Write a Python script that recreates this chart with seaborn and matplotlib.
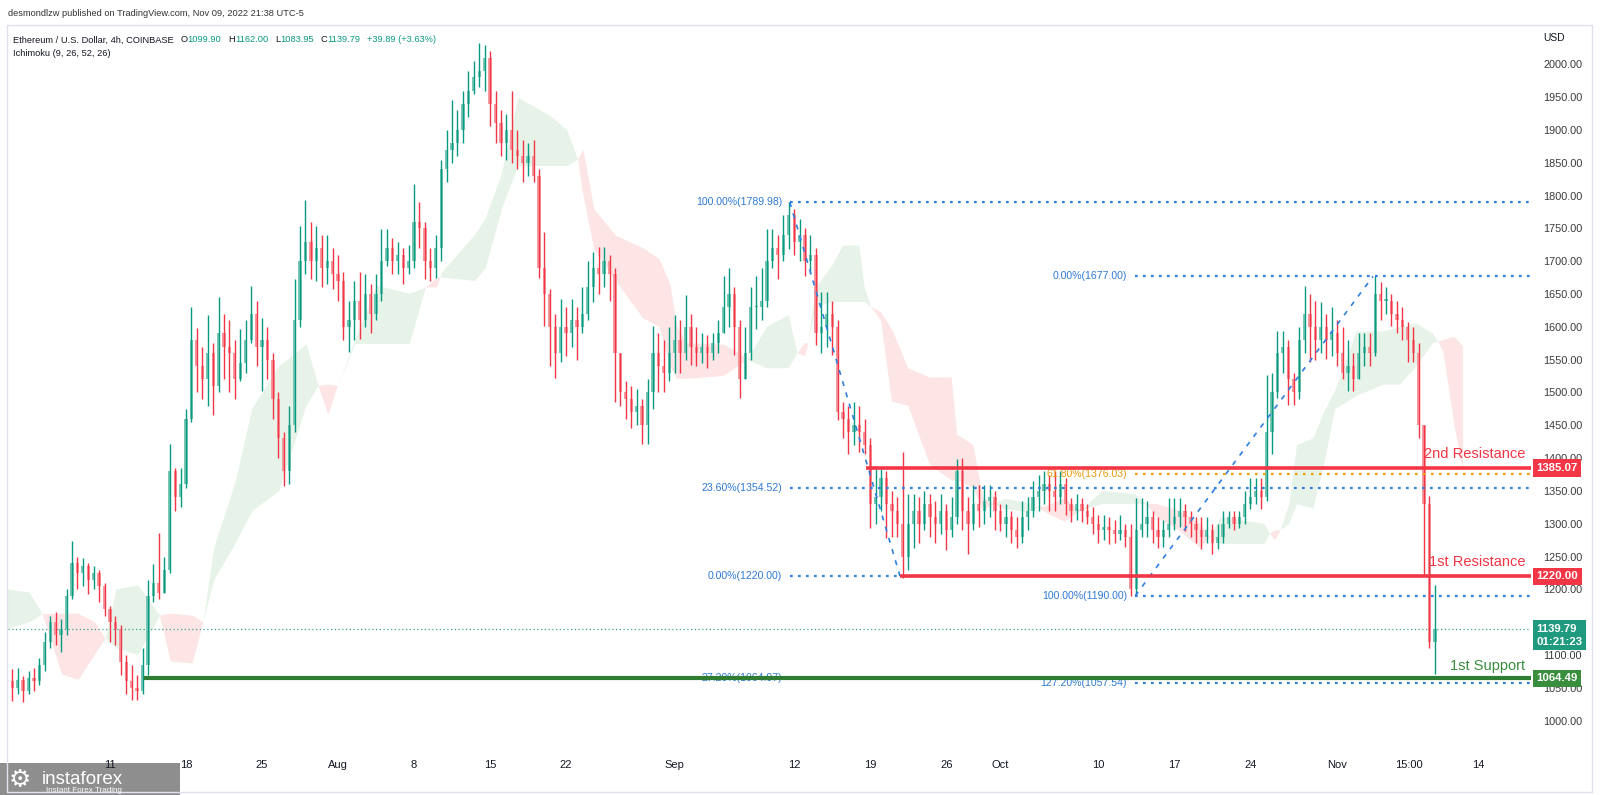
import numpy as np
import pandas as pd
import matplotlib
matplotlib.use("Agg")
import matplotlib.pyplot as plt
import seaborn as sns
from matplotlib.patches import Rectangle
from matplotlib.lines import Line2D
from matplotlib.ticker import FuncFormatter
from matplotlib.transforms import blended_transform_factory

# ---------------- data (12h bars, x in days since 2022-07-01) ----------------
bar_start = 0.75
bar_len = 0.5
first_open = 1060.0

closes = [
    1050, 1062, 1045, 1065, 1060, 1085, 1120, 1150, 1130, 1140, 1190, 1240, 1225, 1235, 1215, 1225, 1205, 1170, 1150, 1140,
    1090, 1060, 1050, 1045, 1085, 1190, 1210, 1195, 1230, 1380, 1340, 1360, 1460, 1580, 1540, 1520, 1560, 1510, 1590, 1570,
    1560, 1520, 1545, 1580, 1620, 1570, 1580, 1550, 1490, 1430, 1380, 1450, 1610, 1700, 1730, 1700, 1720, 1690, 1700, 1680,
    1670, 1600, 1610, 1640, 1610, 1650, 1620, 1650, 1700, 1720, 1700, 1710, 1690, 1700, 1760, 1750, 1700, 1690, 1720, 1840,
    1870, 1880, 1900, 1940, 1960, 1980, 1990, 2010, 1940, 1910, 1880, 1900, 1870, 1860, 1850, 1860, 1830, 1690, 1650, 1600,
    1560, 1600, 1590, 1610, 1600, 1620, 1660, 1690, 1680, 1700, 1680, 1560, 1500, 1490, 1470, 1480, 1450, 1500, 1560, 1540,
    1530, 1560, 1580, 1560, 1600, 1570, 1560, 1570, 1560, 1575, 1590, 1630, 1650, 1600, 1520, 1560, 1630, 1630, 1640, 1700,
    1720, 1710, 1740, 1770, 1730, 1740, 1700, 1710, 1590, 1600, 1620, 1600, 1470, 1460, 1440, 1450, 1440, 1420, 1330, 1340,
    1370, 1330, 1320, 1300, 1250, 1300, 1320, 1300, 1330, 1310, 1300, 1320, 1290, 1310, 1380, 1320, 1300, 1330, 1320, 1335,
    1340, 1320, 1300, 1310, 1290, 1280, 1310, 1320, 1340, 1350, 1360, 1350, 1340, 1360, 1330, 1320, 1330, 1320, 1310,
    1300, 1290, 1295, 1290, 1285, 1290, 1280, 1200, 1290, 1300, 1310, 1290, 1280, 1290, 1300, 1310, 1320, 1310, 1300, 1290,
    1280, 1290, 1270, 1280, 1300, 1310, 1300, 1310, 1330, 1340, 1350, 1340, 1440, 1500, 1560, 1570, 1520, 1500, 1580, 1620,
    1600, 1580, 1600, 1580, 1590, 1560, 1530, 1540, 1520, 1560, 1570, 1560, 1650, 1640, 1640, 1620, 1610, 1600, 1580, 1560,
    1450, 1330, 1120, 1139.79]

highs = [
    1078, 1080, 1068, 1075, 1080, 1095, 1135, 1160, 1165, 1155, 1200, 1274, 1250, 1248, 1240, 1235, 1230, 1210, 1175, 1160,
    1145, 1100, 1085, 1070, 1110, 1214, 1238, 1286, 1250, 1421, 1385, 1385, 1475, 1630, 1598, 1570, 1618, 1575, 1646, 1620,
    1610, 1580, 1597, 1610, 1663, 1640, 1613, 1600, 1560, 1500, 1440, 1480, 1673, 1754, 1793, 1760, 1754, 1740, 1740, 1720,
    1710, 1683, 1640, 1670, 1683, 1680, 1665, 1680, 1749, 1749, 1735, 1730, 1720, 1725, 1817, 1790, 1760, 1720, 1740, 1854,
    1900, 1946, 1930, 1960, 1990, 2005, 2032, 2030, 2020, 1960, 1930, 1925, 1960, 1900, 1885, 1880, 1885, 1840, 1745, 1658,
    1620, 1642, 1630, 1642, 1630, 1660, 1700, 1714, 1721, 1721, 1710, 1690, 1560, 1517, 1510, 1505, 1490, 1520, 1602, 1590,
    1580, 1600, 1618, 1610, 1649, 1620, 1600, 1590, 1587, 1590, 1610, 1678, 1689, 1660, 1610, 1600, 1660, 1678, 1690, 1749,
    1749, 1740, 1770, 1790, 1780, 1765, 1750, 1740, 1720, 1653, 1653, 1640, 1610, 1486, 1480, 1486, 1480, 1460, 1430, 1384,
    1384, 1380, 1350, 1340, 1409, 1345, 1345, 1340, 1350, 1345, 1335, 1345, 1330, 1340, 1399, 1400, 1340, 1359, 1359, 1359,
    1359, 1350, 1330, 1330, 1320, 1310, 1334, 1340, 1365, 1375, 1380, 1375, 1380, 1380, 1370, 1339, 1345, 1339, 1330,
    1325, 1314, 1314, 1310, 1305, 1314, 1300, 1300, 1339, 1339, 1335, 1320, 1310, 1305, 1339, 1339, 1339, 1330, 1320, 1310,
    1310, 1310, 1300, 1300, 1319, 1319, 1319, 1320, 1350, 1370, 1370, 1370, 1526, 1530, 1593, 1593, 1580, 1530, 1600, 1663,
    1650, 1640, 1638, 1620, 1630, 1610, 1600, 1580, 1560, 1590, 1590, 1590, 1678, 1669, 1660, 1650, 1640, 1630, 1607, 1600,
    1575, 1450, 1342, 1206]

lows = [
    1030, 1040, 1028, 1040, 1045, 1055, 1075, 1110, 1115, 1105, 1130, 1185, 1200, 1205, 1193, 1200, 1180, 1160, 1120, 1115,
    1070, 1040, 1031, 1031, 1040, 1070, 1180, 1185, 1195, 1225, 1320, 1325, 1355, 1455, 1500, 1490, 1480, 1466, 1500, 1520,
    1500, 1490, 1517, 1530, 1575, 1540, 1502, 1520, 1460, 1400, 1357, 1360, 1440, 1600, 1680, 1673, 1670, 1660, 1665, 1658,
    1640, 1580, 1562, 1580, 1582, 1600, 1590, 1610, 1640, 1693, 1680, 1680, 1665, 1680, 1690, 1720, 1673, 1670, 1675, 1700,
    1820, 1850, 1860, 1880, 1920, 1955, 1966, 1960, 1906, 1880, 1860, 1854, 1850, 1840, 1820, 1830, 1820, 1675, 1602, 1540,
    1522, 1547, 1555, 1570, 1550, 1590, 1610, 1638, 1650, 1660, 1640, 1486, 1480, 1460, 1446, 1450, 1421, 1421, 1475, 1500,
    1500, 1517, 1530, 1530, 1550, 1542, 1540, 1545, 1537, 1550, 1560, 1590, 1600, 1557, 1491, 1520, 1550, 1597, 1610, 1630,
    1690, 1673, 1700, 1718, 1710, 1700, 1678, 1680, 1573, 1560, 1570, 1557, 1458, 1430, 1406, 1420, 1410, 1406, 1294, 1300,
    1320, 1279, 1280, 1280, 1218, 1230, 1263, 1270, 1290, 1280, 1270, 1285, 1260, 1280, 1300, 1290, 1254, 1290, 1295, 1300,
    1310, 1290, 1289, 1280, 1270, 1263, 1270, 1290, 1310, 1320, 1330, 1320, 1320, 1330, 1314, 1303, 1305, 1303, 1300,
    1285, 1270, 1275, 1269, 1270, 1275, 1265, 1190, 1190, 1280, 1280, 1270, 1263, 1265, 1280, 1290, 1295, 1289, 1280, 1270,
    1262, 1270, 1254, 1262, 1270, 1294, 1290, 1294, 1300, 1323, 1330, 1323, 1335, 1406, 1491, 1530, 1481, 1481, 1490, 1560,
    1546, 1550, 1560, 1551, 1555, 1540, 1520, 1502, 1502, 1520, 1540, 1540, 1555, 1610, 1620, 1602, 1590, 1580, 1546, 1546,
    1430, 1222, 1110, 1071]

# Ichimoku cloud edges (Senkou span A / B)
cloud_days = [0.6, 2.6, 3.8, 5.6, 7.1, 8.6, 9.6, 10.6, 12.6, 14.6, 15.6, 17.6, 18.6, 19.6, 21.6, 23.1, 25.6,
              28.1, 29.2, 30.1, 31.0, 32.6, 34.6, 37.6, 39.1, 40.1, 40.6, 43.6, 44.6, 46.1, 47.6, 50.6, 52.1,
              53.1, 53.6, 54.6, 56.6, 59.1, 60.6, 61.6, 62.2, 63.1, 66.5, 68.0, 68.7, 70.5, 72.5, 73.3, 74.0,
              74.3, 75.0, 76.5, 77.5, 79.0, 79.5, 80.1, 81.0, 82.0, 83.5, 85.5, 87.5, 88.0, 89.5, 90.4, 91.4,
              92.4, 94.4, 95.4, 96.4, 97.9, 99.4, 101.4, 104.4, 105.4, 106.4, 108.4, 110.4, 111.3, 112.3, 116.3,
              116.8, 117.3, 117.8, 118.6, 119.3, 120.8, 121.8, 122.8, 124.8, 127.3, 128.8, 130.3, 131.8, 132.3,
              132.8, 133.8, 134.6]
span_a = [1200, 1195, 1162, 1070, 1062, 1100, 1125, 1200, 1206, 1160, 1090, 1087, 1150, 1263, 1365, 1475, 1540,
          1573, 1510, 1466, 1510, 1580, 1663, 1650, 1660, 1660, 1683, 1740, 1765, 1834, 1949, 1921, 1900,
          1855, 1800, 1718, 1670, 1613, 1600, 1540, 1521, 1521, 1525, 1542, 1550, 1600, 1618, 1560, 1555,
          1575, 1660, 1693, 1724, 1724, 1660, 1630, 1610, 1486, 1480, 1390, 1366, 1366, 1355, 1320, 1330,
          1338, 1332, 1325, 1315, 1303, 1320, 1350, 1345, 1330, 1310, 1290, 1263, 1280, 1310, 1300,
          1285, 1275, 1290, 1330, 1420, 1430, 1470, 1502, 1593, 1593, 1600, 1605, 1590, 1578,
          1560, 1450, 1380]
span_b = [1140, 1150, 1162, 1163, 1163, 1150, 1125, 1110, 1100, 1160, 1163, 1160, 1150, 1214, 1271, 1319, 1350,
          1480, 1510, 1512, 1510, 1574, 1574, 1574, 1660, 1675, 1675, 1670, 1689, 1780, 1845, 1845, 1845,
          1855, 1870, 1779, 1739, 1720, 1703, 1665, 1602, 1575, 1573, 1560, 1550, 1537, 1537, 1560, 1575,
          1575, 1630, 1638, 1638, 1638, 1638, 1630, 1622, 1597, 1537, 1523, 1523, 1436, 1420, 1340, 1330,
          1322, 1318, 1325, 1328, 1339, 1320, 1330, 1330, 1330, 1330, 1320, 1300, 1280, 1269, 1269,
          1285, 1290, 1290, 1300, 1330, 1323, 1390, 1474, 1495, 1512, 1512, 1540, 1575, 1578,
          1580, 1585, 1570]

date_ticks = [10, 17, 24, 31, 38, 45, 52, 62, 73, 80, 87, 92, 101, 108, 115, 123, 129.6, 136]
date_labels = ["11", "18", "25", "Aug", "8", "15", "22", "Sep", "12", "19", "26", "Oct",
               "10", "17", "24", "Nov", "15:00", "14"]
price_ticks = [p for p in range(1000, 2001, 50) if p != 1150]   # 1150 sits under the live-price tag

fib1_names = ["100.00%", "23.60%", "0.00%", "27.20%"]
fib1_levels = [1789.98, 1354.52, 1220.00, 1064.97]
fib2_names = ["0.00%", "61.80%", "100.00%", "127.20%"]
fib2_levels = [1677.00, 1376.03, 1190.00, 1057.54]
fib1_swing_days = [72.6, 82.75]
fib1_swing_prices = [1789.98, 1220.00]
fib2_swing_days = [104.4, 126.3]
fib2_swing_prices = [1190.00, 1677.00]

resist2 = 1385.07
resist1 = 1220.00
support1 = 1064.49
last_price = 1139.79
countdown = "01:21:23"
ohlc_header = [("O", "1099.90"), ("H", "1162.00"), ("L", "1083.95"), ("C", "1139.79")]
change_text = "+39.89 (+3.63%)"

# ---------------- styling ----------------
sns.set_theme(style="white")
plt.rcParams['font.family'] = ['Liberation Sans', 'DejaVu Sans']

W, H = 1600, 795
def fx(px):
    return px / W
def fy(py):
    return 1 - py / H

UP = '#089981'
DOWN = '#f23645'
UP_BODY = '#79c8b4'
DOWN_BODY = '#f59aa1'
BLUE = '#2f7fe0'
BLUE_TXT = '#2f7ad3'
ORANGE = '#f0a010'
GREEN = '#2e7d32'
TXT = '#131722'

fig = plt.figure(figsize=(16, 7.95), dpi=100, facecolor='white')
ax = fig.add_axes([fx(8), fy(758), fx(1531) - fx(8), fy(25) - fy(758)])
ax.set_zorder(40)
ax.set_facecolor('white')
for s in ax.spines.values():
    s.set_visible(False)
ax.set_xlim(0.61, 140.85)
ax.set_ylim(943, 2060)

# Ichimoku cloud
cd = np.array(cloud_days, float)
ca = np.array(span_a, float)
cb = np.array(span_b, float)
ax.fill_between(cd, ca, cb, where=ca >= cb, interpolate=True, color='#e7f3e8', lw=0, zorder=1)
ax.fill_between(cd, ca, cb, where=ca < cb, interpolate=True, color='#fde5e5', lw=0, zorder=1)

# candles
c = np.array(closes, float)
h = np.array(highs, float)
l = np.array(lows, float)
assert len(c) == len(h) == len(l)
o = np.concatenate([[first_open], c[:-1]])
t = bar_start + bar_len * np.arange(len(c)) + bar_len / 2
up = c >= o
top = np.maximum(h, np.maximum(o, c))
bot = np.minimum(l, np.minimum(o, c))
body_h = np.maximum(np.abs(c - o), 2.0)
body_b = np.minimum(o, c)
ax.bar(t[up], body_h[up], bottom=body_b[up], width=0.3, color=UP_BODY, lw=0, zorder=3)
ax.bar(t[~up], body_h[~up], bottom=body_b[~up], width=0.3, color=DOWN_BODY, lw=0, zorder=3)
ax.vlines(t[up], bot[up], top[up], color=UP, lw=1.0, zorder=4)
ax.vlines(t[~up], bot[~up], top[~up], color=DOWN, lw=1.0, zorder=4)

# current price dotted line
ax.axhline(last_price, color='#3aa58f', lw=0.9, ls=(0, (1, 2)), zorder=2)

# fib swings (dashed diagonals)
swing_df = pd.DataFrame({
    'day': fib1_swing_days + fib2_swing_days,
    'price': fib1_swing_prices + fib2_swing_prices,
    'fib': ['a', 'a', 'b', 'b']})
sns.lineplot(data=swing_df, x='day', y='price', units='fib', estimator=None, ax=ax,
             color=BLUE, lw=1.2, linestyle=(0, (3, 4)), zorder=6, legend=False)

xmax = 140.85
dot = (0, (1.2, 2.4))
for name, lev in zip(fib1_names, fib1_levels):
    x_end = 82.75 if lev == resist1 else xmax
    ax.plot([72.6, x_end], [lev, lev], color=BLUE, lw=1.6, ls=dot, zorder=6)
    ax.text(71.9, lev, f"{name}({lev:.2f})", ha='right', va='center', color=BLUE_TXT,
            fontsize=7.6, zorder=6)
for name, lev in zip(fib2_names, fib2_levels):
    col = ORANGE if name == "61.80%" else BLUE
    tcol = '#e89a0c' if name == "61.80%" else BLUE_TXT
    ax.plot([104.4, xmax], [lev, lev], color=col, lw=1.6, ls=dot, zorder=6)
    ax.text(103.65, lev, f"{name}({lev:.2f})", ha='right', va='center', color=tcol,
            fontsize=7.6, zorder=6)

# resistance / support lines
ax.plot([79.6, xmax], [resist2, resist2], color=DOWN, lw=2.6, zorder=7, solid_capstyle='butt')
ax.plot([82.75, xmax], [resist1, resist1], color=DOWN, lw=2.6, zorder=7, solid_capstyle='butt')
ax.plot([13.1, xmax], [support1, support1], color=GREEN, lw=3.0, zorder=7, solid_capstyle='butt')

ax.text(140.3, 1406, "2nd Resistance", ha='right', va='center', color=DOWN, fontsize=10.5, zorder=8)
ax.text(140.3, 1241, "1st Resistance", ha='right', va='center', color=DOWN, fontsize=10.5, zorder=8)
ax.text(140.3, 1083, "1st Support", ha='right', va='center', color='#388e3c', fontsize=10.5, zorder=8)

# axes ticks
ax.yaxis.tick_right()
ax.set_yticks(price_ticks)
ax.yaxis.set_major_formatter(FuncFormatter(lambda v, p: f"{v:.2f}"))
ax.tick_params(axis='y', length=0, pad=9, labelsize=7.8, labelcolor='#3a3a3a')
ax.set_xticks(date_ticks)
ax.set_xticklabels(date_labels)
ax.tick_params(axis='x', length=0, pad=1.5, labelsize=8, labelcolor=TXT)
ax.set_xlabel('')
ax.set_ylabel('')
ax.grid(False)

# price tags on the right scale
tr = blended_transform_factory(ax.transAxes, ax.transData)
def price_box(val, text, fc):
    ax.text(1.0035, val, text, transform=tr, ha='left', va='center', color='white',
            fontsize=8.2, fontweight='bold', clip_on=False, zorder=20, linespacing=1.35,
            bbox=dict(boxstyle='square,pad=0.32', fc=fc, ec='none'))
price_box(resist2, f"{resist2:.2f}", DOWN)
price_box(resist1, f"{resist1:.2f}", DOWN)
price_box(last_price - 10, f"{last_price:.2f}\n{countdown}", '#1f9a7e')
price_box(support1, f"{support1:.2f}", '#388e3c')

# frame
frame_col = '#e0e3eb'
fig.add_artist(Line2D([fx(7), fx(1592)], [fy(25), fy(25)], color=frame_col, lw=1, zorder=50))
fig.add_artist(Line2D([fx(7), fx(7)], [fy(25), fy(792)], color=frame_col, lw=1, zorder=50))
fig.add_artist(Line2D([fx(1592), fx(1592)], [fy(25), fy(792)], color=frame_col, lw=1, zorder=50))
fig.add_artist(Line2D([fx(7), fx(1592)], [fy(792), fy(792)], color=frame_col, lw=1, zorder=50))

# header texts (drawn above the axes)
HS = 6.7
fig.text(fx(8), fy(14), "desmondlzw published on TradingView.com, Nov 09, 2022 21:38 UTC-5",
         fontsize=HS, color='#333333', va='center', ha='left', zorder=60)
anchor = fig.text(fx(13), fy(40), "Ethereum / U.S. Dollar, 4h, COINBASE", fontsize=HS,
                  color=TXT, va='center', ha='left', zorder=60)
segments = []
for key, val in ohlc_header:
    segments.append((key, TXT, 5))
    segments.append((val, UP, 0))
segments.append((change_text, UP, 5))
for txt, col, gap in segments:
    anchor = ax.annotate(txt, xy=(1, 0), xycoords=anchor, xytext=(gap, 0),
                         textcoords='offset points', va='bottom', ha='left', fontsize=HS,
                         color=col, annotation_clip=False, zorder=60)
fig.text(fx(13), fy(54), "Ichimoku (9, 26, 52, 26)", fontsize=HS, color=TXT, va='center',
         ha='left', zorder=60)
fig.text(fx(1543), fy(38), "USD", fontsize=7.4, color=TXT, va='center', ha='left', zorder=60)

# instaforex watermark in the bottom-left corner
fig.add_artist(Rectangle((0, 0), fx(180), (795 - 763) / 795, transform=fig.transFigure,
                         fc='#858585', ec='none', alpha=0.92, zorder=30))
fig.text(fx(20), fy(780), "\u2699", fontsize=18, color='white', family='DejaVu Sans',
         ha='center', va='center', zorder=31)
fig.text(fx(42), fy(780), "instaforex", fontsize=13.5, color='white', ha='left', va='center', zorder=31)
fig.text(fx(46), fy(790.5), "Instant Forex Trading", fontsize=5.8, color='white', ha='left',
         va='center', zorder=31)

fig.savefig('out.png', dpi=100, facecolor='white')
